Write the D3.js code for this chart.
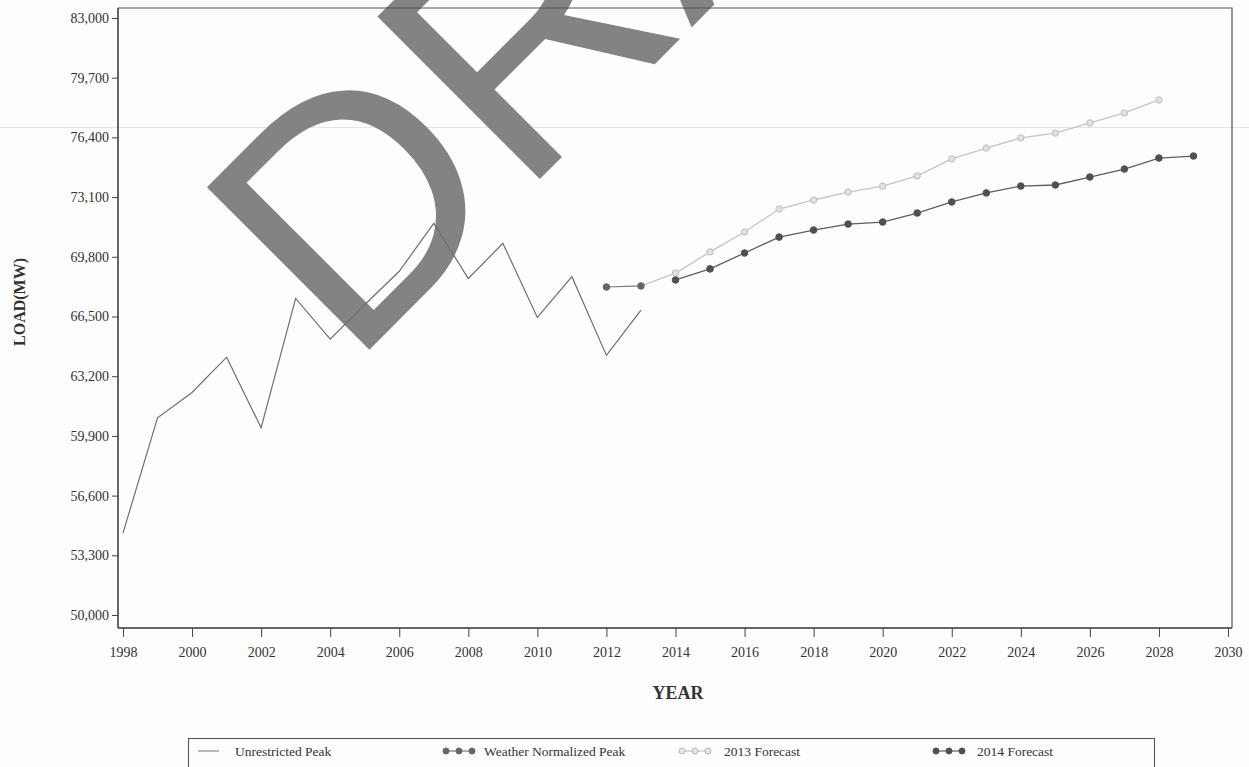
<!DOCTYPE html>
<html>
<head>
<meta charset="utf-8">
<script src="https://cdn.jsdelivr.net/npm/d3@7"></script>
<style>
  html, body { margin: 0; padding: 0; background: #fdfdfd; }
  svg { display: block; }
</style>
</head>
<body>
<svg id="chart" width="1249" height="767"></svg>
<script>
// ---------------- data ----------------
const unrestrictedYears = [1998,1999,2000,2001,2002,2003,2004,2005,2006,2007,2008,2009,2010,2011,2012,2013];
const unrestrictedPeak  = [54530,60900,62300,64250,60350,67500,65250,67150,69000,71650,68600,70550,66450,68700,64350,66850];

const weatherYears = [2012,2013];
const weatherNormalizedPeak = [68130,68190];

const forecast2013Years = [2013,2014,2015,2016,2017,2018,2019,2020,2021,2022,2023,2024,2025,2026,2027,2028];
const forecast2013 = [68190,68900,70070,71170,72440,72940,73380,73710,74270,75210,75810,76370,76640,77200,77750,78470];

const forecast2014Years = [2014,2015,2016,2017,2018,2019,2020,2021,2022,2023,2024,2025,2026,2027,2028,2029];
const forecast2014 = [68520,69130,70010,70890,71280,71610,71720,72220,72830,73330,73710,73770,74210,74650,75260,75370];

const yTickValues = [50000,53300,56600,59900,63200,66500,69800,73100,76400,79700,83000];
const xTickValues = [1998,2000,2002,2004,2006,2008,2010,2012,2014,2016,2018,2020,2022,2024,2026,2028,2030];

const legendLabels = ["Unrestricted Peak","Weather Normalized Peak","2013 Forecast","2014 Forecast"];

// ---------------- layout ----------------
const svg = d3.select("#chart");
const plot = {left:118, right:1232, top:8, bottom:628};
const x = d3.scaleLinear().domain([1998,2030]).range([123,1228]);
const y = d3.scaleLinear().domain([50000,83000]).range([615,18]);
const serif = "'Liberation Serif','Times New Roman',serif";

// faint scan line artifact
svg.append("line").attr("x1",0).attr("x2",1249).attr("y1",127.5).attr("y2",127.5)
  .attr("stroke","#e4e4e4").attr("stroke-width",1.2);

// watermark
svg.append("text")
  .attr("transform","translate(350,369) rotate(-45)")
  .attr("font-family","'Liberation Sans',Arial,sans-serif")
  .attr("font-size",334)
  .attr("fill","#838383")
  .text("DRAFT");

// frame (top and right)
svg.append("path")
  .attr("d",`M${plot.left},${plot.top}H${plot.right}V${plot.bottom}`)
  .attr("fill","none").attr("stroke","#555").attr("stroke-width",1.2);

// axes
const yAxis = d3.axisLeft(y).tickValues(yTickValues).tickFormat(d3.format(",")).tickSize(6).tickPadding(3);
const gy = svg.append("g").attr("transform",`translate(${plot.left},0)`).call(yAxis);
gy.select(".domain").attr("d",`M0,${plot.top}V${plot.bottom}`).attr("stroke","#333").attr("stroke-width",1.5);
gy.selectAll(".tick line").attr("stroke","#444");
gy.selectAll(".tick text").attr("font-family",serif).attr("font-size",14).attr("fill","#333");

const xAxis = d3.axisBottom(x).tickValues(xTickValues).tickFormat(d3.format("d")).tickSize(9).tickPadding(10);
const gx = svg.append("g").attr("transform",`translate(0,${plot.bottom})`).call(xAxis);
gx.select(".domain").attr("d",`M${plot.left},0H${plot.right}`).attr("stroke","#333").attr("stroke-width",1.5);
gx.selectAll(".tick line").attr("stroke","#444");
gx.selectAll(".tick text").attr("font-family",serif).attr("font-size",14).attr("fill","#333");

// axis titles
svg.append("text").attr("transform","translate(25,302) rotate(-90)")
  .attr("text-anchor","middle").attr("font-family",serif).attr("font-weight","bold")
  .attr("font-size",16).attr("fill","#333").text("LOAD(MW)");
svg.append("text").attr("x",678).attr("y",699)
  .attr("text-anchor","middle").attr("font-family",serif).attr("font-weight","bold")
  .attr("font-size",18).attr("fill","#333").text("YEAR");

// ---------------- series ----------------
const line = d3.line().x(d=>x(d[0])).y(d=>y(d[1]));
const zip = (a,b)=>a.map((v,i)=>[v,b[i]]);

const sUnr = zip(unrestrictedYears, unrestrictedPeak);
const sWeather = zip(weatherYears, weatherNormalizedPeak);
const s2013 = zip(forecast2013Years, forecast2013);
const s2014 = zip(forecast2014Years, forecast2014);

svg.append("path").datum(sUnr).attr("d",line).attr("fill","none")
  .attr("stroke","#6f6f6f").attr("stroke-width",1.2);

// 2013 forecast (light, open)
svg.append("path").datum(s2013).attr("d",line).attr("fill","none")
  .attr("stroke","#c4c4c4").attr("stroke-width",1.3);
svg.selectAll(".p2013").data(s2013.slice(1)).enter().append("circle")
  .attr("cx",d=>x(d[0])).attr("cy",d=>y(d[1])).attr("r",3.2)
  .attr("fill","#e2e2e2").attr("stroke","#bdbdbd").attr("stroke-width",1);

// weather normalized
svg.append("path").datum(sWeather).attr("d",line).attr("fill","none")
  .attr("stroke","#777").attr("stroke-width",1.2);
svg.selectAll(".pw").data(sWeather).enter().append("circle")
  .attr("cx",d=>x(d[0])).attr("cy",d=>y(d[1])).attr("r",3.3)
  .attr("fill","#666").attr("stroke","#666");

// 2014 forecast
svg.append("path").datum(s2014).attr("d",line).attr("fill","none")
  .attr("stroke","#5e5e5e").attr("stroke-width",1.3);
svg.selectAll(".p2014").data(s2014).enter().append("circle")
  .attr("cx",d=>x(d[0])).attr("cy",d=>y(d[1])).attr("r",3.3)
  .attr("fill","#505050").attr("stroke","#505050");

// ---------------- legend ----------------
svg.append("rect").attr("x",188.5).attr("y",738.5).attr("width",966).attr("height",60)
  .attr("fill","none").attr("stroke","#555").attr("stroke-width",1.1);

const legY = 751;
const lg = svg.append("g");
// item 1: line
lg.append("line").attr("x1",198).attr("x2",219).attr("y1",legY).attr("y2",legY)
  .attr("stroke","#777").attr("stroke-width",1);
const legendItems = [
  {x0:446, x1:472, fill:"#666", stroke:"#666", line:"#777"},
  {x0:682, x1:708, fill:"#e6e6e6", stroke:"#b5b5b5", line:"#c4c4c4"},
  {x0:936, x1:962, fill:"#505050", stroke:"#505050", line:"#5e5e5e"}
];
legendItems.forEach(it=>{
  lg.append("line").attr("x1",it.x0).attr("x2",it.x1).attr("y1",legY).attr("y2",legY)
    .attr("stroke",it.line).attr("stroke-width",1.2);
  [it.x0,(it.x0+it.x1)/2,it.x1].forEach(cx=>{
    lg.append("circle").attr("cx",cx).attr("cy",legY).attr("r",3)
      .attr("fill",it.fill).attr("stroke",it.stroke);
  });
});
const textXs = [235,484,724,977];
legendLabels.forEach((t,i)=>{
  lg.append("text").attr("x",textXs[i]).attr("y",legY+5)
    .attr("font-family",serif).attr("font-size",13.5).attr("fill","#333").text(t);
});
</script>
</body>
</html>
